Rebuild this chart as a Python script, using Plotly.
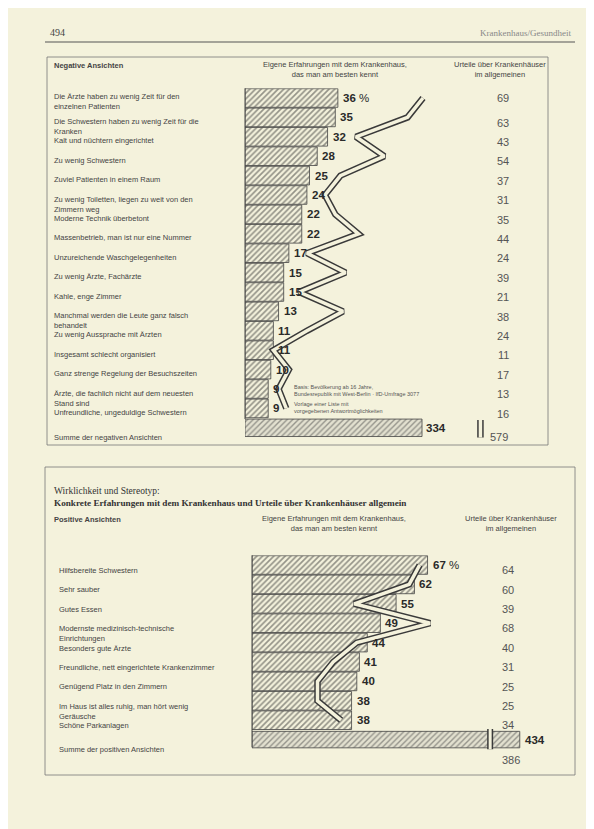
import plotly.graph_objects as go

W, H = 594, 829
OFF = 8  # browser body margin
BG = "#f4f2dc"

# ---------------- data: negative views ----------------
neg_labels = [
    "Die Ärzte haben zu wenig Zeit für den<br>einzelnen Patienten",
    "Die Schwestern haben zu wenig Zeit für die<br>Kranken",
    "Kalt und nüchtern eingerichtet",
    "Zu wenig Schwestern",
    "Zuviel Patienten in einem Raum",
    "Zu wenig Toiletten, liegen zu weit von den<br>Zimmern weg",
    "Moderne Technik überbetont",
    "Massenbetrieb, man ist nur eine Nummer",
    "Unzureichende Waschgelegenheiten",
    "Zu wenig Ärzte, Fachärzte",
    "Kahle, enge Zimmer",
    "Manchmal werden die Leute ganz falsch<br>behandelt",
    "Zu wenig Aussprache mit Ärzten",
    "Insgesamt schlecht organisiert",
    "Ganz strenge Regelung der Besuchszeiten",
    "Ärzte, die fachlich nicht auf dem neuesten<br>Stand sind",
    "Unfreundliche, ungeduldige Schwestern",
]
neg_own = [36, 35, 32, 28, 25, 24, 22, 22, 17, 15, 15, 13, 11, 11, 10, 9, 9]
neg_general = [69, 63, 43, 54, 37, 31, 35, 44, 24, 39, 21, 38, 24, 11, 17, 13, 16]
neg_sum_label = "Summe der negativen Ansichten"
neg_sum_own = 334
neg_sum_general = 579

# ---------------- data: positive views ----------------
pos_labels = [
    "Hilfsbereite Schwestern",
    "Sehr sauber",
    "Gutes Essen",
    "Modernste medizinisch-technische<br>Einrichtungen",
    "Besonders gute Ärzte",
    "Freundliche, nett eingerichtete Krankenzimmer",
    "Genügend Platz in den Zimmern",
    "Im Haus ist alles ruhig, man hört wenig<br>Geräusche",
    "Schöne Parkanlagen",
]
pos_own = [67, 62, 55, 49, 44, 41, 40, 38, 38]
pos_general = [64, 60, 39, 68, 40, 31, 25, 25, 34]
pos_sum_label = "Summe der positiven Ansichten"
pos_sum_own = 434
pos_sum_general = 386

# ---------------- geometry helpers (window pixels -> paper) ----------------
def px(x):
    return (x - OFF) / W

def py(y):
    return 1 - (y - OFF) / H

ROW = 19.4
# top block
T_X0, T_X1 = 245, 548
T_SCALE = 2.58
T_SUM_SCALE = 0.53
T_ROW0 = 98
t_rows = len(neg_labels) + 1
t_top = T_ROW0 - ROW / 2
t_bot = t_top + t_rows * ROW
# bottom block
B_X0, B_X1 = 252, 575
B_SCALE = 2.62
B_SUM_SCALE = 0.617
B_ROW0 = 565
b_rows = len(pos_labels) + 1
b_top = B_ROW0 - ROW / 2
b_bot = b_top + b_rows * ROW

fig = go.Figure()

pattern = dict(shape="/", fgcolor="#333333", bgcolor=BG, size=4, solidity=0.42)
sum_pattern = dict(shape="/", fgcolor="#4a4a4a", bgcolor="#e2e0cf", size=4, solidity=0.35)

neg_idx = list(range(len(neg_labels)))
pos_idx = list(range(len(pos_labels)))
DARK = "#3a3a3a"

# --- top bars ---
fig.add_trace(go.Bar(x=neg_own, y=neg_idx, orientation="h", width=0.96,
                     marker=dict(color=BG, pattern=pattern, line=dict(color="#444", width=0.8)),
                     xaxis="x", yaxis="y", hoverinfo="skip"))
fig.add_trace(go.Bar(x=[neg_sum_own], y=[len(neg_labels)], orientation="h", width=0.9,
                     marker=dict(color=BG, pattern=sum_pattern, line=dict(color="#444", width=0.8)),
                     xaxis="x2", yaxis="y", hoverinfo="skip"))
# --- top double line ---
fig.add_trace(go.Scatter(x=neg_general, y=neg_idx, mode="lines",
                         line=dict(color=DARK, width=6.5), xaxis="x", yaxis="y", hoverinfo="skip"))
fig.add_trace(go.Scatter(x=neg_general, y=neg_idx, mode="lines",
                         line=dict(color=BG, width=3.5), xaxis="x", yaxis="y", hoverinfo="skip"))
# sum marker (value 579 lies beyond the frame: axis broken, marker drawn after the bar)
brk = neg_sum_own * 1.33
s_i = len(neg_labels)
fig.add_trace(go.Scatter(x=[brk, brk], y=[s_i - 0.4, s_i + 0.65], mode="lines",
                         line=dict(color=DARK, width=6.5), xaxis="x2", yaxis="y", hoverinfo="skip"))
fig.add_trace(go.Scatter(x=[brk, brk], y=[s_i - 0.4, s_i + 0.65], mode="lines",
                         line=dict(color=BG, width=3.5), xaxis="x2", yaxis="y", hoverinfo="skip"))

# --- bottom bars ---
fig.add_trace(go.Bar(x=pos_own, y=pos_idx, orientation="h", width=0.96,
                     marker=dict(color=BG, pattern=pattern, line=dict(color="#444", width=0.8)),
                     xaxis="x3", yaxis="y3", hoverinfo="skip"))
fig.add_trace(go.Bar(x=[pos_sum_own], y=[len(pos_labels)], orientation="h", width=0.85,
                     marker=dict(color=BG, pattern=sum_pattern, line=dict(color="#444", width=0.8)),
                     xaxis="x4", yaxis="y3", hoverinfo="skip"))
fig.add_trace(go.Scatter(x=pos_general, y=pos_idx, mode="lines",
                         line=dict(color=DARK, width=6.5), xaxis="x3", yaxis="y3", hoverinfo="skip"))
fig.add_trace(go.Scatter(x=pos_general, y=pos_idx, mode="lines",
                         line=dict(color=BG, width=3.5), xaxis="x3", yaxis="y3", hoverinfo="skip"))
p_i = len(pos_labels)
fig.add_trace(go.Scatter(x=[pos_sum_general, pos_sum_general], y=[p_i - 0.55, p_i + 0.6],
                         mode="lines", line=dict(color=DARK, width=6), xaxis="x4", yaxis="y3",
                         hoverinfo="skip"))
fig.add_trace(go.Scatter(x=[pos_sum_general, pos_sum_general], y=[p_i - 0.55, p_i + 0.6],
                         mode="lines", line=dict(color=BG, width=3), xaxis="x4", yaxis="y3",
                         hoverinfo="skip"))

ann = []
LBL = dict(family="Liberation Sans, Arial, sans-serif", size=7.5, color="#444")
NUM = dict(family="Liberation Sans, Arial, sans-serif", size=11.5, color="#2a2a2a")
COL = dict(family="Liberation Sans, Arial, sans-serif", size=11, color="#555")

def A(**k):
    k.setdefault("showarrow", False)
    ann.append(k)

# top labels, values, right column
for i, lab in enumerate(neg_labels):
    A(text=lab, xref="paper", yref="y", x=px(52), y=i - (0.4 if i == 0 else 0.12),
      xanchor="left", yanchor="top", align="left", font=LBL)
    txt = f"<b>{neg_own[i]}</b>" + (" %" if i == 0 else "")
    A(text=txt, xref="x", yref="y", x=neg_own[i], y=i, xanchor="left", yanchor="middle",
      xshift=3, font=NUM)
    A(text=str(neg_general[i]), xref="paper", yref="y", x=px(503), y=i + (0 if i == 0 else 0.27),
      xanchor="center", yanchor="middle", font=COL)
A(text=neg_sum_label, xref="paper", yref="paper", x=px(52), y=py(437), xanchor="left",
  yanchor="middle", font=LBL)
A(text=f"<b>{neg_sum_own}</b>", xref="x2", yref="y", x=neg_sum_own, y=s_i, xanchor="left",
  yanchor="middle", xshift=2, font=NUM)
A(text=str(neg_sum_general), xref="paper", yref="paper", x=px(499), y=py(437), xanchor="center",
  yanchor="middle", font=COL)

# bottom labels
for i, lab in enumerate(pos_labels):
    A(text=lab, xref="paper", yref="y3", x=px(57), y=i - 0.05, xanchor="left", yanchor="top",
      align="left", font=LBL)
    txt = f"<b>{pos_own[i]}</b>" + (" %" if i == 0 else "")
    A(text=txt, xref="x3", yref="y3", x=pos_own[i], y=i, xanchor="left", yanchor="middle",
      xshift=3, font=NUM)
    A(text=str(pos_general[i]), xref="paper", yref="y3", x=px(508), y=i + 0.27, xanchor="center",
      yanchor="middle", font=COL)
A(text=pos_sum_label, xref="paper", yref="paper", x=px(57), y=py(749), xanchor="left",
  yanchor="middle", font=LBL)
A(text=f"<b>{pos_sum_own}</b>", xref="x4", yref="y3", x=pos_sum_own, y=p_i, xanchor="left",
  yanchor="middle", xshift=3, font=NUM)
A(text=str(pos_sum_general), xref="paper", yref="paper", x=px(511), y=py(760),
  xanchor="center", yanchor="middle", font=COL)

# headers
SERIF = "Liberation Serif, Times New Roman, serif"
A(text="494", xref="paper", yref="paper", x=px(48), y=py(33), xanchor="left", yanchor="middle",
  font=dict(family=SERIF, size=10, color="#444"))
A(text="Krankenhaus/Gesundheit", xref="paper", yref="paper", x=px(573), y=py(33), xanchor="right",
  yanchor="middle", font=dict(family=SERIF, size=9, color="#888"))
A(text="<b>Negative Ansichten</b>", xref="paper", yref="paper", x=px(52), y=py(66),
  xanchor="left", yanchor="middle", font=LBL)
A(text="Eigene Erfahrungen mit dem Krankenhaus,<br>das man am besten kennt", xref="paper",
  yref="paper", x=px(335), y=py(69), xanchor="center", yanchor="middle", font=LBL)
A(text="Urteile über Krankenhäuser<br>im allgemeinen", xref="paper", yref="paper", x=px(500),
  y=py(69), xanchor="center", yanchor="middle", font=LBL)

NOTE = dict(family="Liberation Sans, Arial, sans-serif", size=5.5, color="#555")
A(text="Basis: Bevölkerung ab 16 Jahre,<br>Bundesrepublik mit West-Berlin · IfD-Umfrage 3077",
  xref="paper", yref="paper", x=px(292), y=py(390), xanchor="left", yanchor="middle",
  align="left", font=NOTE)
A(text="Vorlage einer Liste mit<br>vorgegebenen Antwortmöglichkeiten",
  xref="paper", yref="paper", x=px(292), y=py(407), xanchor="left", yanchor="middle",
  align="left", font=NOTE)

A(text="Wirklichkeit und Stereotyp:", xref="paper", yref="paper", x=px(52), y=py(491),
  xanchor="left", yanchor="middle", font=dict(family=SERIF, size=9.5, color="#333"))
A(text="<b>Konkrete Erfahrungen mit dem Krankenhaus und Urteile über Krankenhäuser allgemein</b>",
  xref="paper", yref="paper", x=px(52), y=py(503), xanchor="left", yanchor="middle",
  font=dict(family=SERIF, size=9.2, color="#333"))
A(text="<b>Positive Ansichten</b>", xref="paper", yref="paper", x=px(52), y=py(519),
  xanchor="left", yanchor="middle", font=LBL)
A(text="Eigene Erfahrungen mit dem Krankenhaus,<br>das man am besten kennt", xref="paper",
  yref="paper", x=px(334), y=py(523), xanchor="center", yanchor="middle", font=LBL)
A(text="Urteile über Krankenhäuser<br>im allgemeinen", xref="paper", yref="paper", x=px(511),
  y=py(523), xanchor="center", yanchor="middle", font=LBL)

# frame shapes
shapes = [
    dict(type="line", xref="paper", yref="paper", x0=px(45), x1=px(575), y0=py(42), y1=py(42),
         line=dict(color="#555", width=1)),
    dict(type="rect", xref="paper", yref="paper", x0=px(47), x1=px(548), y0=py(445), y1=py(57),
         line=dict(color="#777", width=0.8)),
    dict(type="line", xref="paper", yref="paper", x0=px(T_X0), x1=px(T_X0), y0=py(t_top),
         y1=py(t_bot - ROW * 0.95), line=dict(color="#444", width=1)),
    dict(type="rect", xref="paper", yref="paper", x0=px(45), x1=px(575), y0=py(775), y1=py(467),
         line=dict(color="#777", width=0.8)),
    dict(type="line", xref="paper", yref="paper", x0=px(B_X0), x1=px(B_X0), y0=py(b_top),
         y1=py(b_bot - ROW * 0.1), line=dict(color="#444", width=1)),
]

fig.update_layout(
    width=W, height=H, margin=dict(l=0, r=0, t=0, b=0),
    paper_bgcolor=BG, plot_bgcolor="rgba(0,0,0,0)", showlegend=False, barmode="overlay",
    annotations=ann, shapes=shapes,
    xaxis=dict(domain=[px(T_X0), px(T_X1)], range=[0, (T_X1 - T_X0) / T_SCALE], visible=False,
               anchor="y"),
    xaxis2=dict(domain=[px(T_X0), px(T_X1)], range=[0, (T_X1 - T_X0) / T_SUM_SCALE],
                visible=False, overlaying="x", anchor="y"),
    yaxis=dict(domain=[py(t_bot), py(t_top)], range=[t_rows - 0.5, -0.5], visible=False,
               anchor="x"),
    xaxis3=dict(domain=[px(B_X0), px(B_X1)], range=[0, (B_X1 - B_X0) / B_SCALE], visible=False,
                anchor="y3"),
    xaxis4=dict(domain=[px(B_X0), px(B_X1)], range=[0, (B_X1 - B_X0) / B_SUM_SCALE],
                visible=False, overlaying="x3", anchor="y3"),
    yaxis3=dict(domain=[py(b_bot), py(b_top)], range=[b_rows - 0.5, -0.5], visible=False,
                anchor="x3"),
)

fig.write_html("out.html")
